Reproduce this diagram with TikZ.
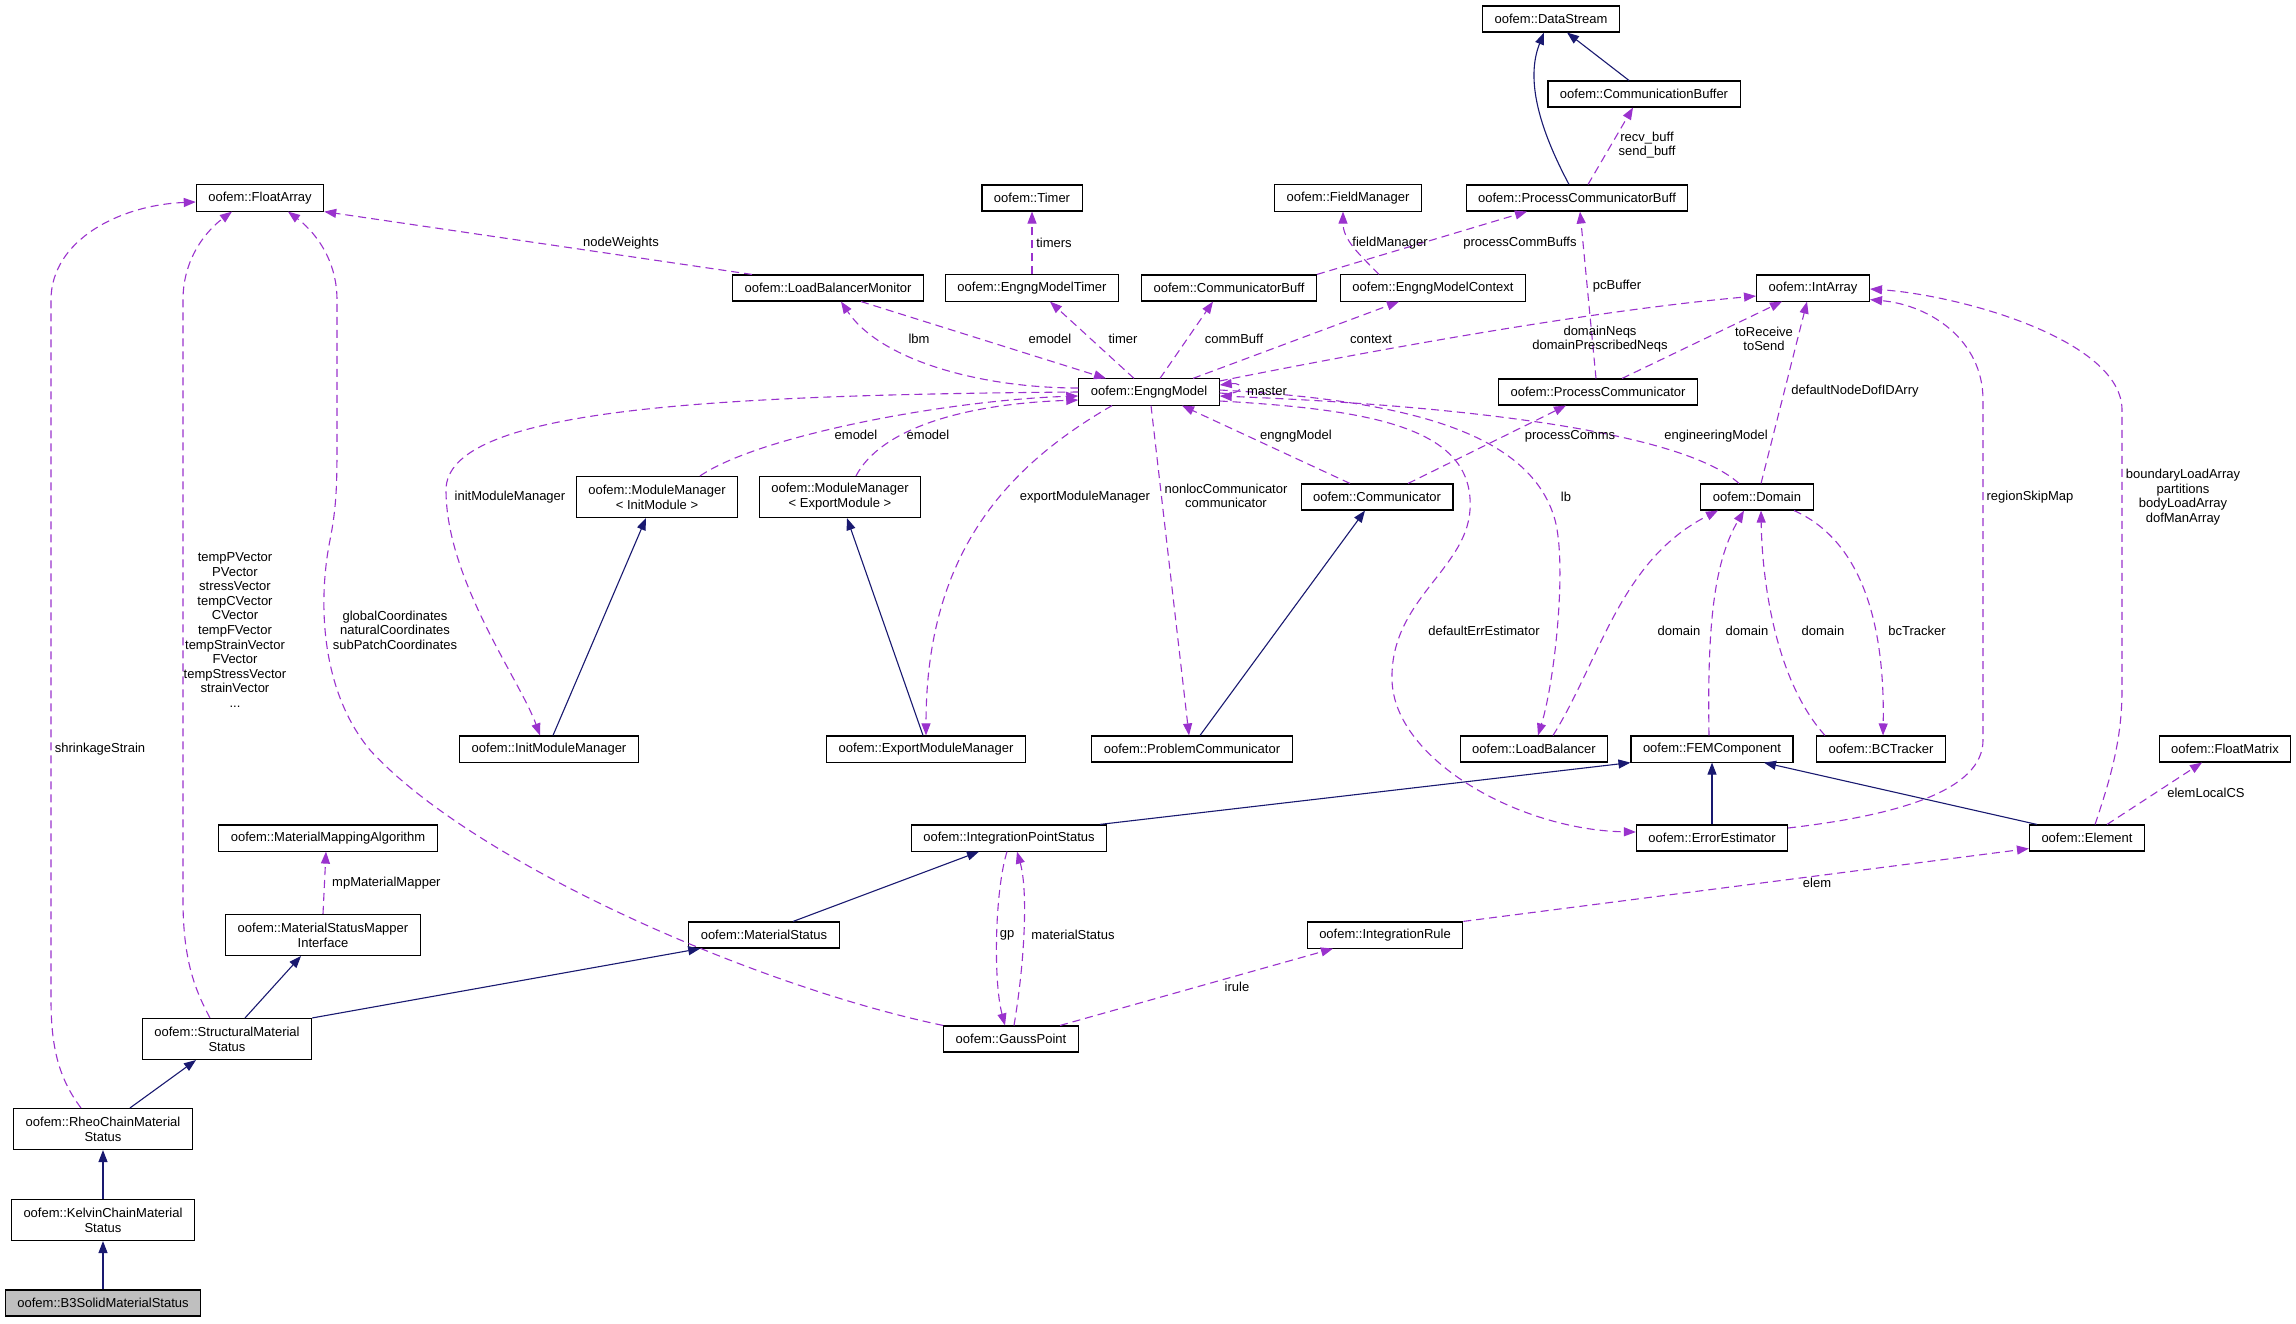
\documentclass[tikz,border=0pt]{standalone}
\usepackage{fontspec}
\setmainfont{Liberation Sans}
\usepackage{xcolor}
\usepackage{tikz}
\usetikzlibrary{arrows.meta}
\definecolor{morado}{HTML}{9A32CD}
\definecolor{marino}{HTML}{191970}
\definecolor{grisclaro}{HTML}{BFBFBF}

\begin{document}
\begin{tikzpicture}[x=1pt, y=-1pt,
      clase/.style={rectangle, draw=black, line width=1.1pt, fill=white, inner xsep=12pt, inner ysep=7pt,
                    minimum height=26pt, align=center, font=\fontsize{13}{15}\selectfont},
      clasedos/.style={clase, minimum height=41pt},
      claseg/.style={clase, fill=grisclaro},
      etiqueta/.style={inner sep=1pt, align=center, font=\fontsize{13}{14.6}\selectfont},
      herencia/.style={-{Triangle[length=12pt, width=9pt]}, draw=marino, line width=1.1pt},
      uso/.style={-{Triangle[length=12pt, width=9pt]}, draw=morado, line width=1.1pt,
                  dash pattern=on 8pt off 5pt}]

    \useasboundingbox (0,0) rectangle (2296,1323);

    \node[clase] (ds) at (1551,19) {oofem::DataStream};
    \node[clase] (cbuf) at (1644,94) {oofem::CommunicationBuffer};
    \node[clase] (pcb) at (1577,198) {oofem::ProcessCommunicatorBuff};
    \node[clase] (fa) at (260,198) {oofem::FloatArray};
    \node[clase] (tmr) at (1032,198) {oofem::Timer};
    \node[clase] (fm) at (1348,198) {oofem::FieldManager};
    \node[clase] (lbm) at (828,288) {oofem::LoadBalancerMonitor};
    \node[clase] (emt) at (1032,288) {oofem::EngngModelTimer};
    \node[clase] (cb) at (1229,288) {oofem::CommunicatorBuff};
    \node[clase] (emc) at (1433,288) {oofem::EngngModelContext};
    \node[clase] (ia) at (1813,288) {oofem::IntArray};
    \node[clase] (em) at (1149,392) {oofem::EngngModel};
    \node[clase] (pc) at (1598,392) {oofem::ProcessCommunicator};
    \node[clasedos] (mmi) at (657,497) {oofem::ModuleManager\\< InitModule >};
    \node[clasedos] (mme) at (840,497) {oofem::ModuleManager\\< ExportModule >};
    \node[clase] (comm) at (1377,497) {oofem::Communicator};
    \node[clase] (dom) at (1757,497) {oofem::Domain};
    \node[clase] (imm) at (549,749) {oofem::InitModuleManager};
    \node[clase] (emm) at (926,749) {oofem::ExportModuleManager};
    \node[clase] (prc) at (1192,749) {oofem::ProblemCommunicator};
    \node[clase] (lb) at (1534,749) {oofem::LoadBalancer};
    \node[clase] (femc) at (1712,749) {oofem::FEMComponent};
    \node[clase] (bct) at (1881,749) {oofem::BCTracker};
    \node[clase] (fmat) at (2225,749) {oofem::FloatMatrix};
    \node[clase] (mma) at (328,838) {oofem::MaterialMappingAlgorithm};
    \node[clase] (ips) at (1009,838) {oofem::IntegrationPointStatus};
    \node[clase] (ee) at (1712,838) {oofem::ErrorEstimator};
    \node[clase] (el) at (2087,838) {oofem::Element};
    \node[clasedos] (msmi) at (323,935) {oofem::MaterialStatusMapper\\Interface};
    \node[clase] (ms) at (764,935) {oofem::MaterialStatus};
    \node[clase] (ir) at (1385,935) {oofem::IntegrationRule};
    \node[clasedos] (sms) at (227,1039) {oofem::StructuralMaterial\\Status};
    \node[clase] (gp) at (1011,1039) {oofem::GaussPoint};
    \node[clasedos] (rcms) at (103,1129) {oofem::RheoChainMaterial\\Status};
    \node[clasedos] (kcms) at (103,1220) {oofem::KelvinChainMaterial\\Status};
    \node[claseg] (b3) at (103,1303) {oofem::B3SolidMaterialStatus};

    \draw[herencia] ([xshift=-15pt]cbuf.north) -- ([xshift=16pt]ds.south);
    \draw[herencia] ([xshift=-8pt]pcb.north) .. controls (1540,130) and (1525,80) .. ([xshift=-7pt]ds.south);
    \draw[herencia] ([xshift=4pt]imm.north) -- ([xshift=-11pt]mmi.south);
    \draw[herencia] ([xshift=-3pt]emm.north) -- ([xshift=7pt]mme.south);
    \draw[herencia] ([xshift=8pt]prc.north) -- ([xshift=-12pt]comm.south);
    \draw[herencia] ([xshift=91pt]ips.north) -- (femc.south west);
    \draw[herencia] (ee.north) -- (femc.south);
    \draw[herencia] ([xshift=-50pt]el.north) -- ([xshift=52pt]femc.south);
    \draw[herencia] ([xshift=29pt]ms.north) -- ([xshift=-30pt]ips.south);
    \draw[herencia] ([xshift=18pt]sms.north) -- ([xshift=-22pt]msmi.south);
    \draw[herencia] (sms.north east) -- ([xshift=12pt]ms.south west);
    \draw[herencia] ([xshift=27pt]rcms.north) -- ([xshift=-31pt]sms.south);
    \draw[herencia] (kcms) -- (rcms);
    \draw[herencia] (b3) -- (kcms);

    \draw[uso] ([xshift=-76pt]lbm.north) -- (fa.south east);
    \draw[uso] (emt) -- (tmr);
    \draw[uso] (cb.north east) -- ([xshift=-50pt]pcb.south);
    \draw[uso] ([xshift=-54pt]emc.north) .. controls (1360,255) and (1343,240) .. ([xshift=-5pt]fm.south);
    \draw[uso] ([xshift=-2pt]pc.north) -- ([xshift=3pt]pcb.south);
    \draw[uso] ([xshift=11pt]pcb.north) -- ([xshift=-11pt]cbuf.south);
    \draw[uso] ([xshift=33pt]lbm.south) -- ([xshift=-43pt]em.north);
    \draw[uso] ([yshift=4pt]em.west) .. controls (980,388) and (880,360) .. ([xshift=13pt]lbm.south);
    \draw[uso] ([xshift=-15pt]em.north) -- ([xshift=18pt]emt.south);
    \draw[uso] ([xshift=11pt]em.north) -- ([xshift=-16pt]cb.south);
    \draw[uso] ([xshift=44pt]em.north) -- ([xshift=-34pt]emc.south);
    \draw[uso] ([yshift=11pt]em.east) .. controls (1400,345) and (1600,310) .. ([yshift=-8pt]ia.west);
    \draw[uso] ([yshift=-1pt]em.east) .. controls (1245,396) and (1245,382) .. ([yshift=7pt]em.east);
    \draw[uso] ([xshift=43pt]mmi.north) .. controls (760,435) and (950,400) .. ([yshift=-4pt]em.west);
    \draw[uso] ([xshift=16pt]mme.north) .. controls (880,430) and (960,404) .. ([yshift=-8pt]em.west);
    \draw[uso] (em.west) .. controls (700,395) and (446,410) .. (446,490)
               .. controls (446,580) and (520,680) .. ([xshift=-9pt]imm.north);
    \draw[uso] ([xshift=-37pt]em.south) .. controls (1000,470) and (926,560) .. (emm.north);
    \draw[uso] ([xshift=2pt]em.south) -- ([xshift=-3pt]prc.north);
    \draw[uso] ([xshift=-27pt]comm.north) -- ([xshift=33pt]em.south);
    \draw[uso] ([xshift=31pt]comm.north) -- ([xshift=-32pt]pc.south);
    \draw[uso] ([xshift=-18pt]dom.north) .. controls (1680,430) and (1450,405) .. ([yshift=-4pt]em.east);
    \draw[uso] ([xshift=4pt]dom.north) -- ([xshift=-6pt]ia.south);
    \draw[uso] ([xshift=24pt]pc.north) -- ([xshift=-31pt]ia.south);
    \draw[uso] ([yshift=2pt]em.east) .. controls (1400,400) and (1530,430) .. (1555,520)
               .. controls (1567,565) and (1555,680) .. ([xshift=4pt]lb.north);
    \draw[uso] ([yshift=-9pt]em.east) .. controls (1380,410) and (1475,430) .. (1470,510)
               .. controls (1466,570) and (1390,600) .. (1392,680)
               .. controls (1394,760) and (1520,830) .. ([yshift=6pt]ee.west);
    \draw[uso] ([xshift=19pt]lb.north) .. controls (1600,660) and (1620,560) .. ([xshift=-39pt]dom.south);
    \draw[uso] ([xshift=-3pt]femc.north) .. controls (1707,620) and (1715,560) .. ([xshift=-13pt]dom.south);
    \draw[uso] ([xshift=-56pt]bct.north) .. controls (1775,680) and (1762,580) .. ([xshift=4pt]dom.south);
    \draw[uso] ([xshift=37pt]dom.south) .. controls (1860,540) and (1885,620) .. ([xshift=2pt]bct.north);
    \draw[uso] ([yshift=10pt]ee.east) .. controls (1900,815) and (1983,790) .. (1983,740) -- (1983,400)
               .. controls (1983,340) and (1930,305) .. ([yshift=2pt]ia.south east);
    \draw[uso] ([xshift=8pt]el.north) .. controls (2110,780) and (2122,740) .. (2122,690) -- (2122,410)
               .. controls (2122,340) and (1960,295) .. ([yshift=-1pt]ia.east);
    \draw[uso] ([xshift=20pt]el.north) -- ([xshift=-23pt]fmat.south);
    \draw[uso] (ir.north east) -- ([yshift=3pt]el.south west);
    \draw[uso] ([xshift=49pt]gp.north) -- ([xshift=-52pt]ir.south);
    \draw[uso] ([xshift=-2pt]ips.south) .. controls (995,890) and (993,980) .. ([xshift=-6pt]gp.north);
    \draw[uso] ([xshift=3pt]gp.north) .. controls (1025,960) and (1028,890) .. ([xshift=8pt]ips.south);
    \draw[uso] (msmi.north) -- ([xshift=-2pt]mma.south);
    \draw[uso] ([xshift=-17pt]sms.north) .. controls (195,990) and (183,960) .. (183,900) -- (183,300)
               .. controls (183,255) and (210,228) .. ([xshift=-28pt]fa.south);
    \draw[uso] ([xshift=-22pt]rcms.north) .. controls (60,1080) and (51,1050) .. (51,1000) -- (51,300)
               .. controls (51,240) and (120,205) .. ([yshift=-4pt]fa.west);
    \draw[uso] (gp.north west) .. controls (750,985) and (470,860) .. (370,750)
               .. controls (320,690) and (318,600) .. (330,540)
               .. controls (337,505) and (337,480) .. (337,440) -- (337,300)
               .. controls (337,255) and (310,228) .. ([xshift=28pt]fa.south);

    \node[etiqueta] (tnw) at (621,243) {nodeWeights};
    \node[etiqueta] (ttim) at (1054,243) {timers};
    \node[etiqueta] (tfm) at (1390,243) {fieldManager};
    \node[etiqueta] (tpcbs) at (1520,243) {processCommBuffs};
    \node[etiqueta] (tpcbu) at (1617,286) {pcBuffer};
    \node[etiqueta] (tbuf) at (1647,145) {recv\_buff\\send\_buff};
    \node[etiqueta] (tlbm) at (919,339) {lbm};
    \node[etiqueta] (tem1) at (1050,339) {emodel};
    \node[etiqueta] (ttimer) at (1123,339) {timer};
    \node[etiqueta] (tcb) at (1234,339) {commBuff};
    \node[etiqueta] (tctx) at (1371,339) {context};
    \node[etiqueta] (tneq) at (1600,339) {domainNeqs\\domainPrescribedNeqs};
    \node[etiqueta] (ttorec) at (1764,339) {toReceive\\toSend};
    \node[etiqueta] (tmaster) at (1267,391) {master};
    \node[etiqueta] (tdofid) at (1855,391) {defaultNodeDofIDArry};
    \node[etiqueta] (tem2) at (856,435) {emodel};
    \node[etiqueta] (tem3) at (928,435) {emodel};
    \node[etiqueta] (tengm) at (1296,436) {engngModel};
    \node[etiqueta] (tpcs) at (1570,436) {processComms};
    \node[etiqueta] (tengi) at (1716,436) {engineeringModel};
    \node[etiqueta] (timm) at (510,497) {initModuleManager};
    \node[etiqueta] (temm) at (1085,497) {exportModuleManager};
    \node[etiqueta] (tnloc) at (1226,496) {nonlocCommunicator\\communicator};
    \node[etiqueta] (tlb) at (1566,497) {lb};
    \node[etiqueta] (trsm) at (2030,497) {regionSkipMap};
    \node[etiqueta] (tbla) at (2183,497) {boundaryLoadArray\\partitions\\bodyLoadArray\\dofManArray};
    \node[etiqueta] (tdee) at (1484,631) {defaultErrEstimator};
    \node[etiqueta] (tdom1) at (1679,631) {domain};
    \node[etiqueta] (tdom2) at (1747,631) {domain};
    \node[etiqueta] (tdom3) at (1823,631) {domain};
    \node[etiqueta] (tbct) at (1917,631) {bcTracker};
    \node[etiqueta] (tvec) at (235,630) {tempPVector\\PVector\\stressVector\\tempCVector\\CVector\\tempFVector\\tempStrainVector\\FVector\\tempStressVector\\strainVector\\...};
    \node[etiqueta] (tshr) at (100,749) {shrinkageStrain};
    \node[etiqueta] (tcoor) at (395,630) {globalCoordinates\\naturalCoordinates\\subPatchCoordinates};
    \node[etiqueta] (tlcs) at (2206,793) {elemLocalCS};
    \node[etiqueta, anchor=west] (tmpm) at (331,883) {mpMaterialMapper};
    \node[etiqueta] (telem) at (1817,883) {elem};
    \node[etiqueta] (tirule) at (1237,987) {irule};
    \node[etiqueta] (tgp) at (1007,935) {gp};
    \node[etiqueta] (tmst) at (1073,935) {materialStatus};
  \end{tikzpicture}
\end{document}
